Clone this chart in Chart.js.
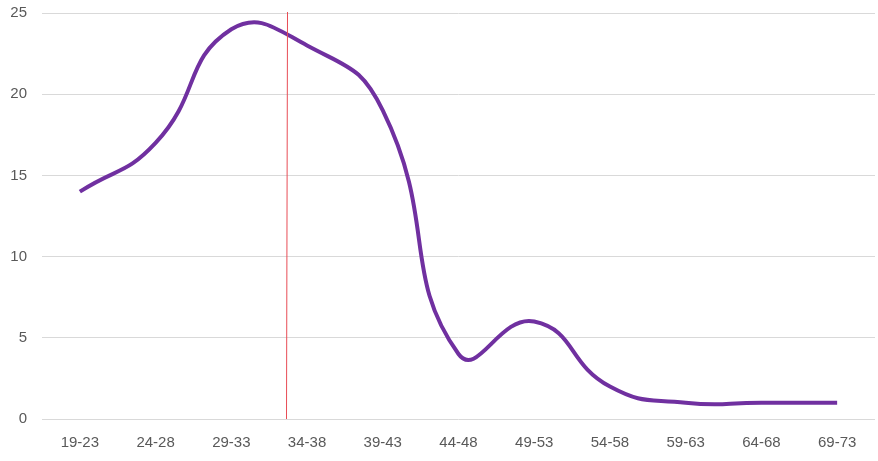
<!DOCTYPE html>
<html>
<head>
<meta charset="utf-8">
<script src="https://cdn.jsdelivr.net/npm/chart.js@4/dist/chart.umd.min.js"></script>
<style>
  html, body { margin: 0; padding: 0; background: #fff; }
  #wrap { width: 878px; height: 461px; }
</style>
</head>
<body>
<div id="wrap"><canvas id="chartCanvas" width="878" height="461"></canvas></div>
<script>
"use strict";

const ageGroups = ['19-23', '24-28', '29-33', '34-38', '39-43', '44-48', '49-53', '54-58', '59-63', '64-68', '69-73'];
const counts = [14, 17, 24, 23, 19, 4, 6, 2, 1, 1, 1];
const yTicks = [0, 5, 10, 15, 20, 25];
const markerIndex = 2.74; // red marker, just past 29-33

const markerLine = {
    id: 'markerLine',
    afterDatasetsDraw(chart) {
        const x = chart.scales.x.getPixelForValue(markerIndex);
        const y = chart.scales.y;
        const ctx = chart.ctx;
        ctx.save();
        ctx.strokeStyle = '#e84c55';
        ctx.lineWidth = 1;
        ctx.beginPath();
        ctx.moveTo(Math.round(x) + 0.5, y.getPixelForValue(25) - 1);
        ctx.lineTo(Math.round(x) - 0.5, y.getPixelForValue(0));
        ctx.stroke();
        ctx.restore();
    }
};

const ctx = document.getElementById('chartCanvas').getContext('2d');
const chart = new Chart(ctx, {
    type: 'line',
    data: {
        labels: ageGroups,
        datasets: [{
            data: counts,
            borderColor: '#7030a0',
            borderWidth: 4,
            pointRadius: 0,
            tension: 0.5,
            fill: false
        }]
    },
    options: {
        responsive: false,
        animation: false,
        layout: { padding: { top: 13, right: 3, left: 0, bottom: 0 } },
        plugins: {
            legend: { display: false },
            tooltip: { enabled: false }
        },
        scales: {
            x: {
                offset: true,
                grid: { display: false },
                border: { display: false },
                ticks: {
                    color: '#595959',
                    font: { family: 'Liberation Sans', size: 15 },
                    padding: 7,
                    maxRotation: 0,
                    autoSkip: false
                },
                afterFit(scale) {
                    scale.height = 42;
                    scale.paddingLeft = 0;
                    scale.paddingRight = 0;
                }
            },
            y: {
                min: 0,
                max: 25,
                afterBuildTicks(scale) { scale.ticks = yTicks.map(v => ({ value: v })); },
                grid: { color: '#d9d9d9', lineWidth: 1, drawTicks: false },
                border: { display: false },
                ticks: {
                    color: '#595959',
                    font: { family: 'Liberation Sans', size: 15 },
                    padding: 15
                },
                afterFit(scale) {
                    scale.width = 42;
                    scale.paddingTop = 0;
                    scale.paddingBottom = 0;
                }
            }
        }
    },
    plugins: [markerLine]
});
</script>
</body>
</html>
